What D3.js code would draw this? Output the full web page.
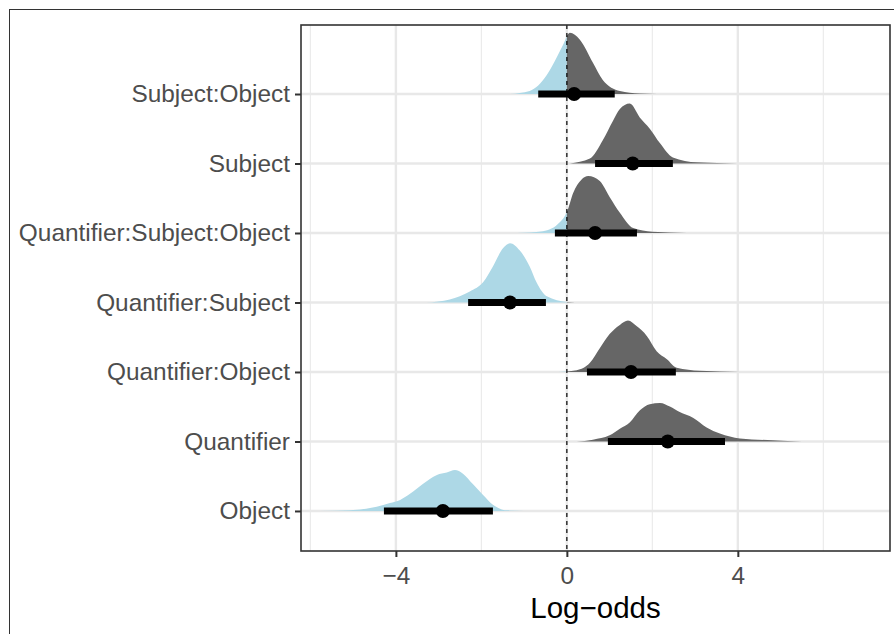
<!DOCTYPE html>
<html>
<head>
<meta charset="utf-8">
<script src="https://cdn.jsdelivr.net/npm/d3@7"></script>
<style>
  body { margin: 0; background: #fff; }
  svg { display: block; font-family: "Liberation Sans", Arial, Helvetica, sans-serif; }
</style>
</head>
<body>
<div id="chart"></div>
<script>
// categories, bottom to top
const categories = ["Object", "Quantifier", "Quantifier:Object", "Quantifier:Subject",
  "Quantifier:Subject:Object", "Subject", "Subject:Object"];

// point estimate and interval (log-odds)
const medians = [-2.9, 2.36, 1.5, -1.33, 0.66, 1.54, 0.17];
const lower   = [-4.28, 0.96, 0.47, -2.31, -0.28, 0.66, -0.67];
const upper   = [-1.73, 3.7, 2.55, -0.49, 1.64, 2.48, 1.12];

// posterior density outlines: [log-odds, relative height]
const densObject = [[-5.78,0],[-5.08,0.01],[-4.45,0.07],[-4.14,0.13],[-3.9,0.18],[-3.67,0.28],[-3.37,0.44],
  [-3.04,0.59],[-2.81,0.63],[-2.62,0.67],[-2.43,0.61],[-2.2,0.44],[-1.96,0.26],[-1.73,0.1],[-1.4,0.01],[-0.63,0]];
const densQuantifier = [[0.23,0],[0.61,0.03],[1.0,0.1],[1.24,0.21],[1.47,0.31],[1.71,0.51],[1.94,0.61],[2.18,0.63],
  [2.41,0.57],[2.64,0.48],[2.95,0.39],[3.27,0.23],[3.58,0.13],[4.05,0.05],[4.82,0.02],[5.5,0]];
const densQuantObject = [[-0.2,0],[0.23,0.03],[0.54,0.15],[0.77,0.39],[1.0,0.62],[1.24,0.77],[1.43,0.84],[1.63,0.75],
  [1.87,0.59],[2.1,0.34],[2.34,0.21],[2.57,0.07],[3.11,0.02],[4.05,0]];
const densQuantSubject = [[-3.28,0],[-2.74,0.05],[-2.27,0.18],[-1.96,0.33],[-1.73,0.59],[-1.49,0.89],[-1.33,0.97],
  [-1.1,0.85],[-0.87,0.59],[-0.71,0.33],[-0.47,0.1],[0,0.01],[0.38,0]];
const densQuantSubjObj = [[-1.17,0],[-0.56,0.03],[-0.16,0.18],[0,0.34],[0.15,0.66],[0.34,0.87],[0.5,0.93],[0.77,0.85],
  [1.0,0.59],[1.24,0.33],[1.55,0.08],[2.0,0.02],[2.8,0]];
const densSubject = [[0.07,0],[0.54,0.08],[0.84,0.38],[1.08,0.7],[1.24,0.89],[1.47,0.98],[1.71,0.75],[1.94,0.57],
  [2.18,0.33],[2.48,0.1],[3.04,0.02],[3.98,0]];
const densSubjObject = [[-1.33,0],[-0.87,0.05],[-0.47,0.31],[-0.23,0.61],[-0.1,0.79],[0.07,1.0],[0.3,0.89],[0.61,0.51],
  [0.84,0.23],[1.24,0.05],[1.7,0.01],[2.5,0]];
const densities = [densObject, densQuantifier, densQuantObject, densQuantSubject,
  densQuantSubjObj, densSubject, densSubjObject];

const xTicks = [-4, 0, 4];
const xMinor = [-6, -2, 2, 6];

// layout
const W = 894, H = 634;
const margin = {top: 25, right: 4, bottom: 83, left: 301};
const width = W - margin.left - margin.right;
const height = H - margin.top - margin.bottom;

const svg = d3.select("#chart").append("svg")
  .attr("width", W).attr("height", H);

// outer frame
svg.append("rect")
  .attr("x", 9.5).attr("y", 9.5)
  .attr("width", 900).attr("height", 640)
  .attr("fill", "none").attr("stroke", "#333").attr("stroke-width", 1);

const g = svg.append("g").attr("transform", `translate(${margin.left},${margin.top})`);

const x = d3.scaleLinear().domain([-6.22, 7.56]).range([0, width]);
const y = d3.scaleLinear().domain([0.424, 7.993]).range([height, 0]);
const h = d3.scaleLinear().domain([0, 1]).range([0, 0.88]);

// grid
g.selectAll(".minor").data(xMinor).join("line")
  .attr("x1", d => x(d)).attr("x2", d => x(d))
  .attr("y1", 0).attr("y2", height)
  .attr("stroke", "#ebebeb").attr("stroke-width", 1.2);
g.selectAll(".majorx").data(xTicks).join("line")
  .attr("x1", d => x(d)).attr("x2", d => x(d))
  .attr("y1", 0).attr("y2", height)
  .attr("stroke", "#e8e8e8").attr("stroke-width", 2.4);
g.selectAll(".majory").data(categories).join("line")
  .attr("x1", 0).attr("x2", width)
  .attr("y1", (d, i) => y(i + 1)).attr("y2", (d, i) => y(i + 1))
  .attr("stroke", "#e8e8e8").attr("stroke-width", 2.4);

// clip regions for the two sides of zero
const defs = svg.append("defs");
defs.append("clipPath").attr("id", "neg").append("rect")
  .attr("x", 0).attr("y", 0).attr("width", x(0)).attr("height", height);
defs.append("clipPath").attr("id", "pos").append("rect")
  .attr("x", x(0)).attr("y", 0).attr("width", width - x(0)).attr("height", height);

const area = i => d3.area()
  .x(d => x(d[0]))
  .y0(y(i + 1))
  .y1(d => y(i + 1 + h(d[1])))
  .curve(d3.curveMonotoneX);

densities.forEach((dens, i) => {
  g.append("path").datum(dens)
    .attr("clip-path", "url(#neg)")
    .attr("fill", "#add8e6")
    .attr("d", area(i));
  g.append("path").datum(dens)
    .attr("clip-path", "url(#pos)")
    .attr("fill", "#666666")
    .attr("d", area(i));
});

// zero reference line
g.append("line")
  .attr("x1", x(0)).attr("x2", x(0))
  .attr("y1", 0).attr("y2", height)
  .attr("stroke", "#000").attr("stroke-width", 1.2)
  .attr("stroke-dasharray", "4,4");

// intervals and points
g.selectAll(".interval").data(categories).join("line")
  .attr("x1", (d, i) => x(lower[i])).attr("x2", (d, i) => x(upper[i]))
  .attr("y1", (d, i) => y(i + 1)).attr("y2", (d, i) => y(i + 1))
  .attr("stroke", "#000").attr("stroke-width", 7);
g.selectAll(".pt").data(categories).join("circle")
  .attr("cx", (d, i) => x(medians[i]))
  .attr("cy", (d, i) => y(i + 1))
  .attr("r", 7)
  .attr("fill", "#000");

// panel border
g.append("rect")
  .attr("width", width).attr("height", height)
  .attr("fill", "none").attr("stroke", "#333").attr("stroke-width", 1.6);

// axes
const xAxis = g.append("g")
  .attr("transform", `translate(0,${height})`)
  .call(d3.axisBottom(x).tickValues(xTicks).tickSize(6).tickPadding(10));
const yAxis = g.append("g")
  .call(d3.axisLeft(y).tickValues(d3.range(1, categories.length + 1))
    .tickFormat(d => categories[d - 1]).tickSize(6).tickPadding(5));

[xAxis, yAxis].forEach(ax => {
  ax.select(".domain").remove();
  ax.selectAll(".tick line").attr("stroke", "#333").attr("stroke-width", 2);
  ax.selectAll(".tick text")
    .attr("fill", "#4d4d4d")
    .style("font-size", "24.4px");
});

// axis title
svg.append("text")
  .attr("x", margin.left + width / 2)
  .attr("y", 618)
  .attr("text-anchor", "middle")
  .style("font-size", "29.5px")
  .attr("fill", "#000")
  .text("Log\u2212odds");
</script>
</body>
</html>
